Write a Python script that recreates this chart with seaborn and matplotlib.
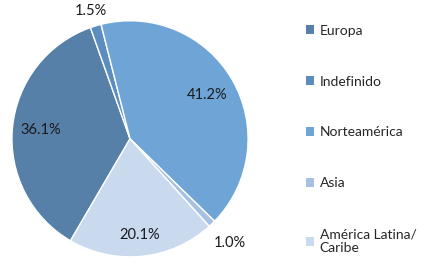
import numpy as np
import pandas as pd
import seaborn as sns
import matplotlib.pyplot as plt
from matplotlib.patches import Patch

sns.set_theme(style="white")
plt.rcParams['font.family'] = ['Lato', 'DejaVu Sans']

# data, in legend order (slices drawn clockwise)
regions = ["Europa", "Indefinido", "Norteamérica", "Asia", "América Latina/\nCaribe"]
shares = [36.1, 1.5, 41.2, 1.0, 20.1]
colors = ["#5680A8", "#5B8DBF", "#6FA5D6", "#A6C1E2", "#C9D9EE"]

df = pd.DataFrame({"region": regions, "share": shares})

fig = plt.figure(figsize=(4.27, 2.73), dpi=100)
ax = fig.add_axes([0.028, 0.059, 0.553, 0.865])

wedges, texts = ax.pie(
    df["share"], colors=colors, startangle=-120.3, counterclock=False,
    wedgeprops=dict(edgecolor="white", linewidth=1.0),
)
ax.set_aspect("equal")
ax.set_xlim(-1, 1)
ax.set_ylim(-1, 1)

# percentage labels, placed along each slice's mid-angle
label_r = [0.76, 1.13, 0.75, 1.22, 0.82]
for i, w in enumerate(wedges):
    ang = np.deg2rad((w.theta1 + w.theta2) / 2)
    r = label_r[i]
    ax.text(r * np.cos(ang), r * np.sin(ang), f"{shares[i]:.1f}%",
            ha="center", va="center", fontsize=10.5, color="#1a1a1a", clip_on=False)

handles = [Patch(facecolor=c, edgecolor="none") for c in colors]
fig.legend(handles, regions, loc="upper left", bbox_to_anchor=(0.703, 0.93),
           frameon=False, fontsize=10, labelspacing=2.8, handlelength=0.6,
           handleheight=0.6, handletextpad=0.4, borderaxespad=0)

fig.savefig("out.png", dpi=100)
